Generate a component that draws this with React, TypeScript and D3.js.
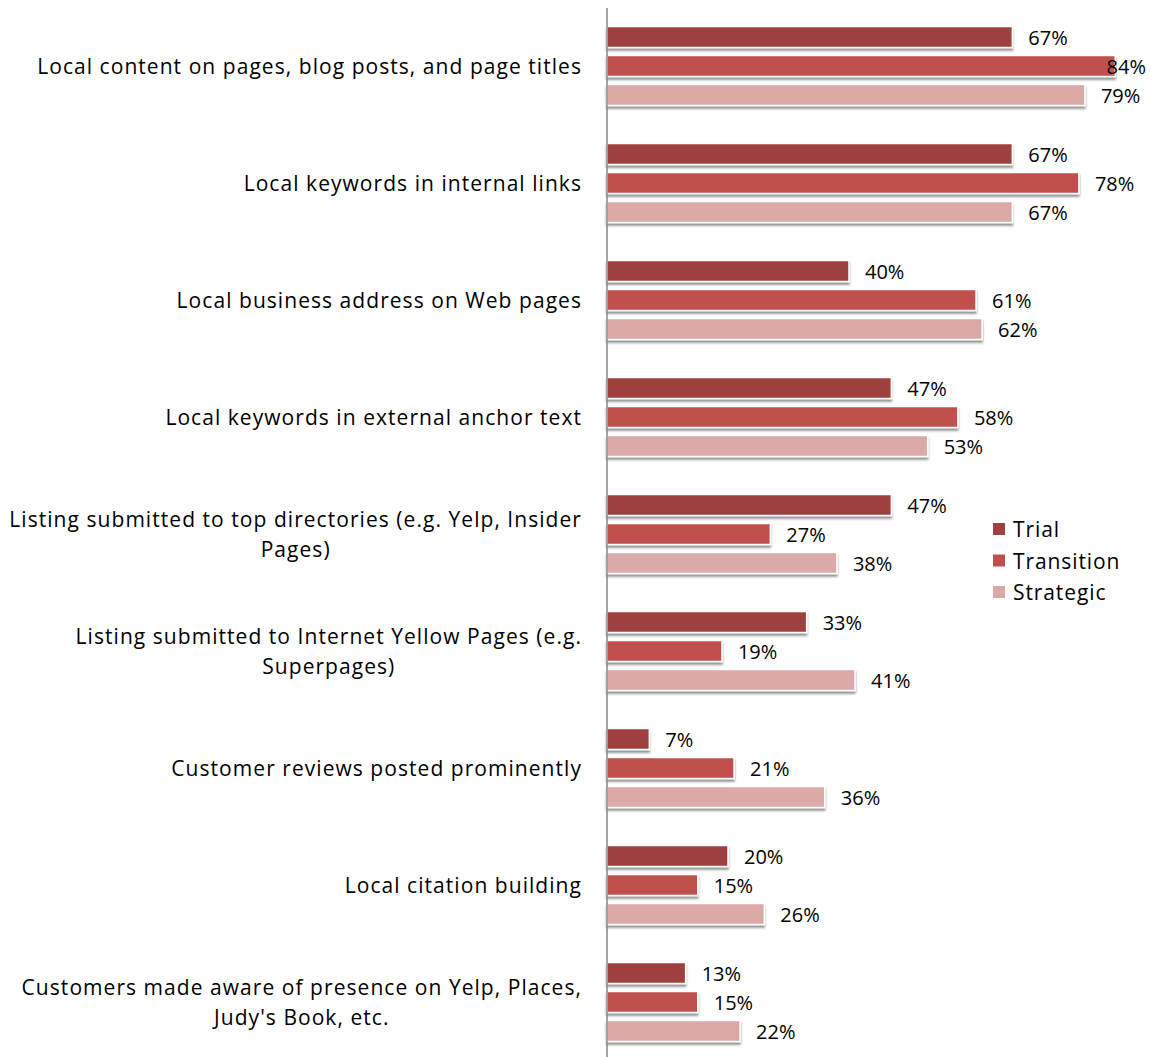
import React from "react";
import * as d3 from "d3";

const categories: string[][] = [
  ["Local content on pages, blog posts, and page titles"],
  ["Local keywords in internal links"],
  ["Local business address on Web pages"],
  ["Local keywords in external anchor text"],
  ["Listing submitted to top directories (e.g. Yelp, Insider", "Pages)"],
  ["Listing submitted to Internet Yellow Pages (e.g.", "Superpages)"],
  ["Customer reviews posted prominently"],
  ["Local citation building"],
  ["Customers made aware of presence on Yelp, Places,", "Judy's Book, etc."],
];
const seriesNames = ["Trial", "Transition", "Strategic"];
const trial = [67, 67, 40, 47, 47, 33, 7, 20, 13];
const transition = [84, 78, 61, 58, 27, 19, 21, 15, 15];
const strategic = [79, 67, 62, 53, 38, 41, 36, 26, 22];
const seriesValues = [trial, transition, strategic];
const colors = ["#9E413E", "#C0504D", "#DBA9A8"];

const W = 1151;
const H = 1057;
const FONT = "'Open Sans', sans-serif";
const LABEL_SIZE = 21;
const LS = 1.05;

let ctx: CanvasRenderingContext2D | null = null;
function measure(s: string, size: number, ls: number): number {
  if (!ctx) {
    const c = document.createElement("canvas");
    ctx = c.getContext("2d");
  }
  if (!ctx) return s.length * size * 0.5;
  ctx.font = `${size}px 'Open Sans'`;
  return ctx.measureText(s).width + s.length * ls;
}

export default function App() {
  const x = d3.scaleLinear().domain([0, 100]).range([607, 1212]);
  const y = d3
    .scaleBand<number>()
    .domain(d3.range(categories.length))
    .range([7.5, 1060.5]);
  const barH = 21;
  const pitch = 29;
  const groupOffset = (y.bandwidth() - (2 * pitch + barH)) / 2;
  const rightLimit = 1146;

  return (
    <svg width={W} height={H} style={{ position: "absolute", left: 0, top: 0 }}>
      <defs>
        <filter id="sh" x="-5%" y="-30%" width="110%" height="180%">
          <feDropShadow dx="0" dy="2.5" stdDeviation="1.3" floodColor="#000" floodOpacity="0.45" />
        </filter>
      </defs>
      <rect width={W} height={H} fill="#fff" />
      {categories.map((lines, i) => {
        const cy = (y(i) as number) + y.bandwidth() / 2;
        const lh = 30;
        const maxW = Math.max(...lines.map((l) => measure(l, LABEL_SIZE, LS)));
        const cx = 582 - maxW / 2;
        return (
          <g key={"c" + i}>
            {lines.map((ln, j) => {
              const ty = cy + (j - (lines.length - 1) / 2) * lh;
              return (
                <text key={j} x={cx} y={ty} textAnchor="middle" dominantBaseline="central"
                  fontFamily={FONT} fontSize={LABEL_SIZE} letterSpacing={LS} fill="#000">{ln}</text>
              );
            })}
          </g>
        );
      })}
      {seriesValues.map((vals, s) =>
        vals.map((v, i) => {
          const by = (y(i) as number) + groupOffset + s * pitch;
          const bx1 = x(v);
          const label = v + "%";
          const textW = measure(label, 20, 0);
          let tx = bx1 + 16;
          let anchor: "start" | "end" = "start";
          if (tx + textW > rightLimit) {
            tx = rightLimit;
            anchor = "end";
          }
          return (
            <g key={s + "-" + i}>
              <rect x={x(0)} y={by} width={bx1 - x(0)} height={barH} fill={colors[s]}
                stroke="#fff" strokeWidth={1.5} filter="url(#sh)" />
              <text x={tx} y={by + barH / 2} textAnchor={anchor} dominantBaseline="central"
                fontFamily={FONT} fontSize={20} fill="#000">{label}</text>
            </g>
          );
        })
      )}
      <line x1={607} x2={607} y1={8} y2={H} stroke="#868686" strokeWidth={1.5} />
      {seriesNames.map((n, k) => (
        <g key={n}>
          <rect x={993} y={523 + k * 31.5} width={12} height={12} fill={colors[k]} />
          <text x={1013} y={529 + k * 31.5} dominantBaseline="central" fontFamily={FONT}
            fontSize={LABEL_SIZE} letterSpacing={0.9} fill="#000">{n}</text>
        </g>
      ))}
    </svg>
  );
}
